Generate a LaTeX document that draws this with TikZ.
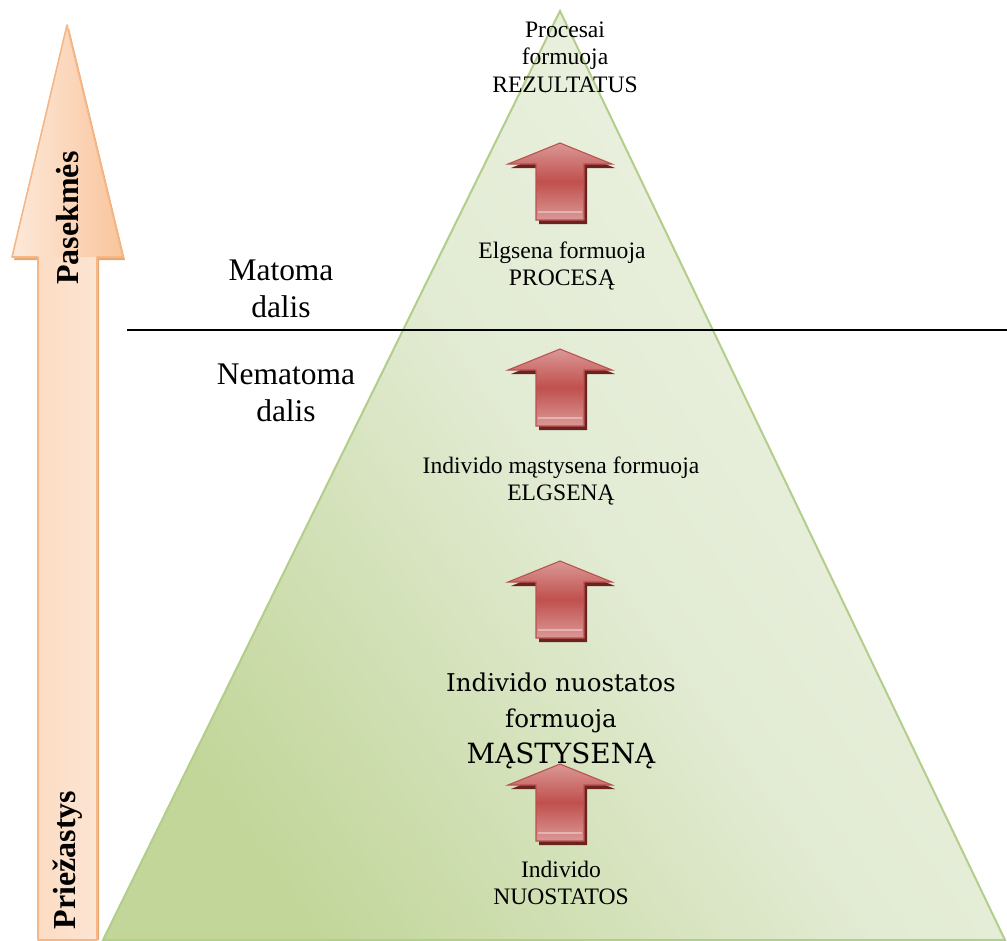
\documentclass[tikz,border=0pt]{standalone}
\usepackage{fontspec}
\setmainfont{Liberation Serif}
\newfontfamily\cambfont{DejaVu Serif}
\definecolor{triDark}{HTML}{C2D69A}
\definecolor{triMid}{HTML}{E2EBD3}
\definecolor{triLight}{HTML}{EDF3E4}
\definecolor{triEdge}{HTML}{B3CD8A}
\definecolor{orDark}{HTML}{F9C59C}
\definecolor{orSoft}{HTML}{FBD8BC}
\definecolor{orLight}{HTML}{FDE9DA}
\definecolor{orEdge}{HTML}{F5B786}
\definecolor{orShadow}{HTML}{E8A874}
\definecolor{redLight}{HTML}{DA9896}
\definecolor{redMid}{HTML}{C0504D}
\definecolor{redEdge}{HTML}{B9514E}
\definecolor{redShadow}{HTML}{6B2322}
\definecolor{redStripe}{HTML}{E4B4B2}
\tikzset{
  smalltext/.style={font=\fontsize{17.7}{20.6}\selectfont, align=center, inner sep=0pt},
  bigtext/.style={font=\fontsize{23.6}{27.5}\selectfont, align=center, inner sep=0pt},
  sidetext/.style={font=\bfseries\fontsize{24}{28}\selectfont, rotate=90, inner sep=0pt},
  redarrow/.pic={
    \path[fill=redShadow] (3,4) -- (55,25) -- (27,25) -- (27,81) -- (-21,81) -- (-21,25) -- (-49,25) -- cycle;
    \path[draw=redEdge, line width=0.8pt, top color=redLight, bottom color=redLight, middle color=redMid]
      (0,0) -- (52,21) -- (24,21) -- (24,77) -- (-24,77) -- (-24,21) -- (-52,21) -- cycle;
    \draw[redStripe, line width=1.2pt] (-22,69) -- (22,69);
  }
}
\begin{document}
\begin{tikzpicture}[x=0.75pt,y=-0.75pt]
\useasboundingbox (0,0) rectangle (1007,940);
% pyramid
\path[draw=triEdge, line width=1.5pt, top color=triLight, bottom color=triDark, middle color=triMid, shading angle=-55]
  (560,11) -- (1005,940) -- (103,940) -- cycle;
% left arrow
\path[fill=orShadow] (69,28) -- (125,260) -- (99,260) -- (99,940) -- (40,940) -- (40,260) -- (14,260) -- cycle;
\path[left color=orSoft, right color=orLight]
  (67,25) -- (123,257) -- (97,257) -- (97,940) -- (38,940) -- (38,257) -- (12,257) -- cycle;
\path[left color=orLight, right color=orDark]
  (67,25) -- (123,257) -- (12,257) -- cycle;
\draw[orEdge, line width=1.2pt, line join=round]
  (67,25) -- (123,257) -- (97,257) -- (97,940) -- (38,940) -- (38,257) -- (12,257) -- cycle;
\node[sidetext] (pas) at (68,218) {Pasekmės};
\node[sidetext] (prie) at (68,860) {Priežastys};
% divider line
\coordinate (lineL) at (127,330);
\coordinate (lineR) at (1007,330);
\draw[line width=1.4pt] (lineL) -- (lineR);
\node[bigtext] (mat) at (281,289) {Matoma\\dalis};
\node[bigtext] (nemat) at (286,393) {Nematoma\\dalis};
% red arrows
\pic at (560,143) {redarrow};
\pic at (560,349) {redarrow};
\pic at (560,561) {redarrow};
\pic at (560,764) {redarrow};
% texts
\node[smalltext] (rez) at (565,57) {Procesai\\formuoja\\REZULTATUS};
\node[smalltext] (proc) at (562,266) {Elgsena formuoja\\PROCESĄ};
\node[smalltext] (elg) at (561,481) {Individo mąstysena formuoja\\ELGSENĄ};
\node[align=center, inner sep=0pt, font=\cambfont\fontsize{18.4}{27}\selectfont] (mast) at (561,721)
  {Individo nuostatos\\formuoja\\{\fontsize{20.9}{27}\selectfont MĄSTYSENĄ}};
\node[smalltext] (nuo) at (561,883) {Individo\\NUOSTATOS};
\end{tikzpicture}
\end{document}
